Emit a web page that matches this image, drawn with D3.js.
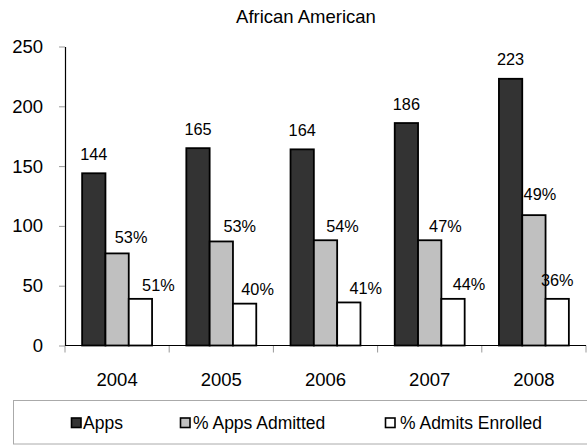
<!DOCTYPE html>
<html><head><meta charset="utf-8">
<script src="https://cdn.jsdelivr.net/npm/d3@7"></script>
<style>
html,body{margin:0;padding:0;background:#fff;}
svg{display:block;font-family:"Liberation Sans",Arial,sans-serif;}
</style></head>
<body><svg id="c" width="587" height="445"></svg>
<script>
const title = "African American";
const years = ["2004","2005","2006","2007","2008"];
const seriesNames = ["Apps","% Apps Admitted","% Admits Enrolled"];
const apps = [144,165,164,186,223];
const admitted = [77,87,88,88,109];
const enrolled = [39,35,36,39,39];
const appsLabels = ["144","165","164","186","223"];
const admittedLabels = ["53%","53%","54%","47%","49%"];
const enrolledLabels = ["51%","40%","41%","44%","36%"];
const yTicks = [0,50,100,150,200,250];

(function(){
// layout-only label nudges [dx, gap above bar]
const labelNudge = [
  [[0,13.5],[0,13.5],[0,13.5],[0,13.5],[0,13.5]],
  [[14,10.4],[18.5,9.4],[17,8.7],[15.7,8.7],[6,14.7]],
  [[18,8],[13,8.7],[17,8.7],[16,9],[0,13.3]]
];
const colors = ["#333333","#c0c0c0","#ffffff"];

const svg = d3.select("#c");
const pL = 65, pR = 586, pT = 46.5, pB = 345.5;
const x = d3.scaleBand().domain(years).range([pL,pR]).padding(0);
const xs = d3.scaleBand().domain(seriesNames).range([0,x.bandwidth()]).paddingInner(0).paddingOuter(0.735);
const y = d3.scaleLinear().domain([0,250]).range([pB,pT]);

const seriesVals = [apps, admitted, enrolled];
const seriesLabels = [appsLabels, admittedLabels, enrolledLabels];

// title
svg.append("text").attr("x",306).attr("y",23).attr("text-anchor","middle")
  .style("font-size","18.5px").attr("fill","#000").text(title);

// y axis
const ya = svg.append("g").attr("transform",`translate(${pL},0)`)
  .call(d3.axisLeft(y).tickValues(yTicks).tickSize(6).tickSizeOuter(0).tickPadding(16).tickFormat(d3.format("d")));
ya.select(".domain").attr("stroke","#000").attr("stroke-width",1.2);
ya.selectAll(".tick line").attr("stroke","#999");
ya.selectAll(".tick text").style("font-size","18.5px").attr("fill","#000").attr("font-family","Liberation Sans, Arial, sans-serif");

// x boundary ticks
const bounds = years.map(d=>x(d)).concat([x(years[years.length-1])+x.bandwidth()]);
svg.append("g").selectAll("line").data(bounds).join("line")
  .attr("x1",d=>d).attr("x2",d=>d).attr("y1",pB).attr("y2",pB+7)
  .attr("stroke","#999");

// bars
seriesNames.forEach((s,si)=>{
  svg.append("g").selectAll("rect").data(years).join("rect")
    .attr("x",d=>x(d)+xs(s))
    .attr("width",xs.bandwidth())
    .attr("y",(d,i)=>y(seriesVals[si][i]))
    .attr("height",(d,i)=>pB-y(seriesVals[si][i]))
    .attr("fill",colors[si]).attr("stroke","#000").attr("stroke-width",1.8);
});

// x axis line
svg.append("line").attr("x1",pL).attr("x2",pR).attr("y1",pB).attr("y2",pB)
  .attr("stroke","#000").attr("stroke-width",1.2);

// x labels
const xa = svg.append("g").attr("transform",`translate(0,${pB})`)
  .call(d3.axisBottom(x).tickSize(0).tickPadding(0));
xa.select(".domain").remove();
xa.selectAll(".tick text").attr("dy",null).attr("y",40.5)
  .style("font-size","18.5px").attr("fill","#000").attr("font-family","Liberation Sans, Arial, sans-serif");

// data labels
seriesNames.forEach((s,si)=>{
  svg.append("g").selectAll("text").data(years).join("text")
    .attr("x",(d,i)=>x(d)+xs(s)+xs.bandwidth()/2+labelNudge[si][i][0])
    .attr("y",(d,i)=>y(seriesVals[si][i])-labelNudge[si][i][1])
    .attr("text-anchor","middle").style("font-size","16.3px").attr("fill","#000")
    .text((d,i)=>seriesLabels[si][i]);
});

// legend
svg.append("rect").attr("x",13.5).attr("y",400.5).attr("width",600).attr("height",43.5)
  .attr("fill","none").attr("stroke","#aaa").attr("stroke-width",1);
const legX = [71,180,385];
const lg = svg.append("g").selectAll("g").data(seriesNames).join("g")
  .attr("transform",(d,i)=>`translate(${legX[i]},0)`);
lg.append("rect").attr("x",0.5).attr("y",418).attr("width",9.5).attr("height",9.5)
  .attr("fill",(d,i)=>colors[i]).attr("stroke","#000").attr("stroke-width",1.6);
lg.append("text").attr("x",(d,i)=> i===0?12:(i===1?13:15)).attr("y",429.3)
  .style("font-size","17.5px").attr("fill","#000").text(d=>d);
})();
</script></body></html>
